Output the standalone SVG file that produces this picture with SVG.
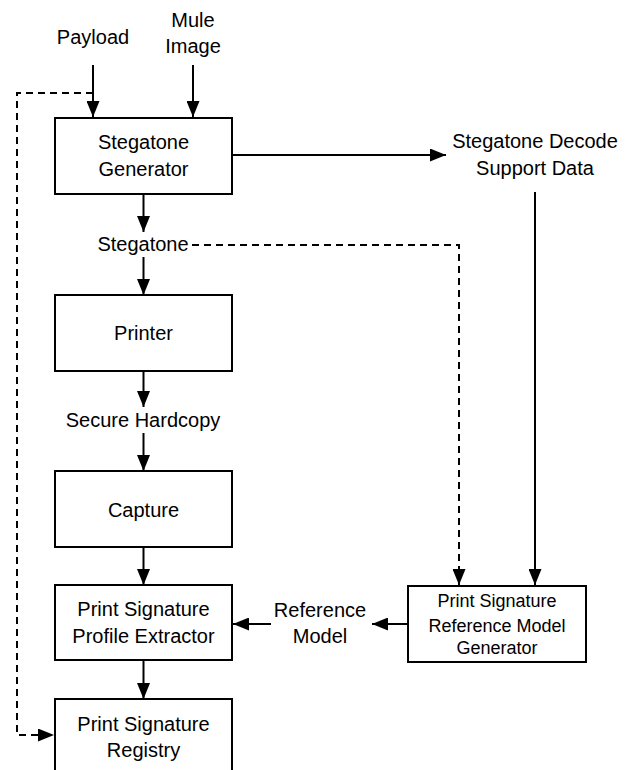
<svg xmlns="http://www.w3.org/2000/svg" width="631" height="770" viewBox="0 0 631 770">
<style>
.box{fill:#fff;stroke:#000;stroke-width:2}
.t{font-family:"Liberation Sans",Arial,sans-serif;font-size:20px;fill:#000;text-anchor:middle}
.s{font-size:18px}
.c{fill:none;stroke:#000;stroke-width:2}
.d{stroke-dasharray:7 5}
</style>
<defs>
<marker id="ah" viewBox="0 0 16 13" refX="16" refY="6.5" markerWidth="16" markerHeight="13" markerUnits="userSpaceOnUse" orient="auto">
<path d="M0,0 L16,6.5 L0,13 z" fill="#000"/>
</marker>
</defs>
<rect width="631" height="770" fill="#fff"/>
<g id="connectors">
<path class="c" d="M93,65 V117" marker-end="url(#ah)"/>
<path class="c" d="M193,65 V117" marker-end="url(#ah)"/>
<path class="c d" d="M93,93 H17 V735 H54" marker-end="url(#ah)"/>
<path class="c" d="M232,155 H446" marker-end="url(#ah)"/>
<path class="c" d="M143.5,194 V232" marker-end="url(#ah)"/>
<path class="c d" d="M192,245 H459 V585" marker-end="url(#ah)"/>
<path class="c" d="M535,192 V585" marker-end="url(#ah)"/>
<path class="c" d="M143.5,257 V295" marker-end="url(#ah)"/>
<path class="c" d="M143.5,371 V407" marker-end="url(#ah)"/>
<path class="c" d="M143.5,433 V471" marker-end="url(#ah)"/>
<path class="c" d="M143.5,547 V585" marker-end="url(#ah)"/>
<path class="c" d="M143.5,660 V699" marker-end="url(#ah)"/>
<path class="c" d="M408,624 H372" marker-end="url(#ah)"/>
<path class="c" d="M271,624 H233" marker-end="url(#ah)"/>
</g>
<g id="payload"><text class="t" x="93" y="44">Payload</text></g>
<g id="mule"><text class="t" x="193" y="27">Mule</text><text class="t" x="193" y="53">Image</text></g>
<g id="generator"><rect class="box" x="55" y="118" width="177" height="76"/><text class="t" x="143.5" y="149">Stegatone</text><text class="t" x="143.5" y="176">Generator</text></g>
<g id="decode-data"><text class="t" x="535" y="148">Stegatone Decode</text><text class="t" x="535" y="175">Support Data</text></g>
<g id="stegatone"><text class="t" x="143" y="251">Stegatone</text></g>
<g id="printer"><rect class="box" x="55" y="295" width="177" height="76"/><text class="t" x="143.5" y="340">Printer</text></g>
<g id="hardcopy"><text class="t" x="143" y="427">Secure Hardcopy</text></g>
<g id="capture"><rect class="box" x="55" y="471" width="177" height="76"/><text class="t" x="143.5" y="517">Capture</text></g>
<g id="extractor"><rect class="box" x="55" y="585" width="177" height="75"/><text class="t" x="143.5" y="616">Print Signature</text><text class="t" x="143.5" y="643">Profile Extractor</text></g>
<g id="ref-model"><text class="t" x="320" y="617">Reference</text><text class="t" x="320" y="643">Model</text></g>
<g id="ref-gen"><rect class="box" x="408" y="586" width="178" height="76"/><text class="t s" x="497" y="607">Print Signature</text><text class="t s" x="497" y="632">Reference Model</text><text class="t s" x="497" y="654">Generator</text></g>
<g id="registry"><rect class="box" x="55" y="699" width="177" height="80"/><text class="t" x="143.5" y="731">Print Signature</text><text class="t" x="143.5" y="757">Registry</text></g>
</svg>
